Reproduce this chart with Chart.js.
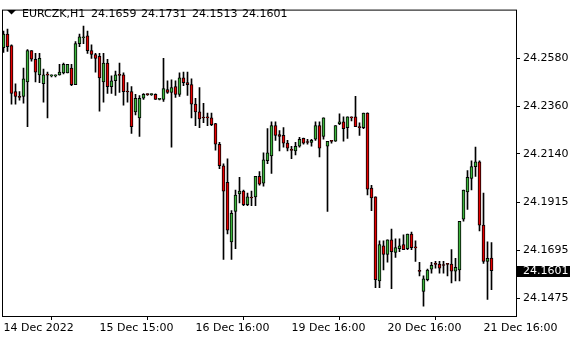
<!DOCTYPE html>
<html>
<head>
<meta charset="utf-8">
<title>EURCZK,H1</title>
<script src="https://cdn.jsdelivr.net/npm/chart.js@4.4.1/dist/chart.umd.min.js"></script>
<style>
  html, body { margin: 0; padding: 0; background: #fff; }
  #wrap { width: 580px; height: 340px; }
</style>
</head>
<body>
<div id="wrap"><canvas id="chart" width="580" height="340"></canvas></div>
<script>
// EURCZK H1 candles, one value per hour bar
const symbol = 'EURCZK,H1';

const open = [
  24.2630, 24.2692, 24.2639, 24.2427, 24.2405, 24.2405, 24.2472, 24.2616, 24.2576, 24.2504,
  24.2463, 24.2504, 24.2499, 24.2499, 24.2504, 24.2513, 24.2513, 24.2535, 24.2459, 24.2648,
  24.2675, 24.2684, 24.2616, 24.2598, 24.2589, 24.2472, 24.2558, 24.2450, 24.2477, 24.2504,
  24.2504, 24.2427, 24.2427, 24.2333, 24.2306, 24.2396, 24.2414, 24.2413, 24.2414, 24.2391,
  24.2391, 24.2436, 24.2423, 24.2450, 24.2414, 24.2490, 24.2468, 24.2459, 24.2369, 24.2333,
  24.2306, 24.2310, 24.2306, 24.2279, 24.2184, 24.2085, 24.2009, 24.1734, 24.1874, 24.1955,
  24.1968, 24.1905, 24.1937, 24.1941, 24.2036, 24.2004, 24.2108, 24.2130, 24.2270, 24.2229,
  24.2225, 24.2189, 24.2157, 24.2153, 24.2175, 24.2211, 24.2193, 24.2193, 24.2207, 24.2270,
  24.2220, 24.2175, 24.2198, 24.2198, 24.2279, 24.2288, 24.2261, 24.2310, 24.2310, 24.2265,
  24.2261, 24.2328, 24.1982, 24.1941, 24.1554, 24.1716, 24.1676, 24.1743, 24.1685, 24.1703,
  24.1721, 24.1703, 24.1770, 24.1707, 24.1599, 24.1505, 24.1559, 24.1608, 24.1631, 24.1631,
  24.1626, 24.1631, 24.1631, 24.1599, 24.1604, 24.1838, 24.1964, 24.2027, 24.2081, 24.2103,
  24.1811, 24.1644, 24.1659
];
const high = [
  24.2706, 24.2715, 24.2643, 24.2463, 24.2427, 24.2535, 24.2621, 24.2616, 24.2603, 24.2603,
  24.2531, 24.2517, 24.2504, 24.2504, 24.2553, 24.2558, 24.2553, 24.2553, 24.2657, 24.2692,
  24.2729, 24.2706, 24.2643, 24.2603, 24.2603, 24.2603, 24.2576, 24.2499, 24.2522, 24.2558,
  24.2513, 24.2468, 24.2450, 24.2414, 24.2409, 24.2418, 24.2416, 24.2416, 24.2416, 24.2393,
  24.2580, 24.2477, 24.2481, 24.2477, 24.2513, 24.2517, 24.2517, 24.2486, 24.2396, 24.2445,
  24.2373, 24.2328, 24.2328, 24.2280, 24.2193, 24.2094, 24.2117, 24.1878, 24.1973, 24.2031,
  24.1973, 24.1959, 24.1968, 24.2036, 24.2058, 24.2144, 24.2256, 24.2288, 24.2288, 24.2247,
  24.2261, 24.2202, 24.2175, 24.2193, 24.2216, 24.2212, 24.2207, 24.2207, 24.2288, 24.2288,
  24.2306, 24.2198, 24.2202, 24.2270, 24.2324, 24.2310, 24.2310, 24.2311, 24.2405, 24.2283,
  24.2328, 24.2329, 24.1995, 24.1942, 24.1739, 24.1739, 24.1743, 24.1793, 24.1748, 24.1748,
  24.1766, 24.1770, 24.1779, 24.1739, 24.1640, 24.1577, 24.1608, 24.1640, 24.1644, 24.1644,
  24.1644, 24.1635, 24.1698, 24.1658, 24.1829, 24.1973, 24.2063, 24.2108, 24.2171, 24.2108,
  24.1959, 24.1734, 24.1731
];
const low = [
  24.2607, 24.2612, 24.2369, 24.2369, 24.2387, 24.2373, 24.2265, 24.2567, 24.2472, 24.2468,
  24.2378, 24.2306, 24.2495, 24.2495, 24.2503, 24.2508, 24.2513, 24.2454, 24.2459, 24.2634,
  24.2648, 24.2603, 24.2580, 24.2517, 24.2337, 24.2378, 24.2418, 24.2418, 24.2409, 24.2423,
  24.2364, 24.2378, 24.2234, 24.2319, 24.2220, 24.2391, 24.2409, 24.2409, 24.2391, 24.2389,
  24.2382, 24.2418, 24.2171, 24.2400, 24.2405, 24.2454, 24.2409, 24.2306, 24.2270, 24.2261,
  24.2283, 24.2270, 24.2270, 24.2157, 24.2072, 24.1653, 24.1770, 24.1653, 24.1703, 24.1914,
  24.1901, 24.1901, 24.1901, 24.1901, 24.1995, 24.1991, 24.2094, 24.2049, 24.2202, 24.2153,
  24.2171, 24.2153, 24.2117, 24.2135, 24.2171, 24.2184, 24.2184, 24.2175, 24.2202, 24.2126,
  24.2207, 24.1874, 24.2189, 24.2197, 24.2274, 24.2198, 24.2211, 24.2292, 24.2265, 24.2225,
  24.2256, 24.1950, 24.1878, 24.1523, 24.1523, 24.1604, 24.1640, 24.1518, 24.1662, 24.1689,
  24.1698, 24.1698, 24.1698, 24.1644, 24.1577, 24.1437, 24.1554, 24.1590, 24.1613, 24.1590,
  24.1590, 24.1577, 24.1545, 24.1554, 24.1554, 24.1829, 24.1883, 24.1973, 24.2036, 24.1784,
  24.1635, 24.1469, 24.1513
];
const close = [
  24.2692, 24.2634, 24.2418, 24.2405, 24.2400, 24.2486, 24.2616, 24.2576, 24.2517, 24.2580,
  24.2504, 24.2503, 24.2499, 24.2500, 24.2517, 24.2553, 24.2553, 24.2459, 24.2648, 24.2679,
  24.2679, 24.2616, 24.2598, 24.2580, 24.2490, 24.2558, 24.2450, 24.2477, 24.2504, 24.2502,
  24.2427, 24.2425, 24.2265, 24.2396, 24.2396, 24.2414, 24.2413, 24.2414, 24.2391, 24.2391,
  24.2441, 24.2423, 24.2445, 24.2414, 24.2490, 24.2468, 24.2459, 24.2369, 24.2333, 24.2301,
  24.2305, 24.2306, 24.2274, 24.2184, 24.2085, 24.1968, 24.1788, 24.1865, 24.1950, 24.1968,
  24.1905, 24.1941, 24.1936, 24.2036, 24.2000, 24.2112, 24.2144, 24.2270, 24.2225, 24.2220,
  24.2189, 24.2166, 24.2156, 24.2175, 24.2207, 24.2189, 24.2192, 24.2202, 24.2270, 24.2166,
  24.2306, 24.2198, 24.2197, 24.2270, 24.2288, 24.2256, 24.2310, 24.2306, 24.2265, 24.2261,
  24.2328, 24.1977, 24.1937, 24.1559, 24.1721, 24.1676, 24.1743, 24.1689, 24.1707, 24.1716,
  24.1698, 24.1770, 24.1707, 24.1706, 24.1598, 24.1563, 24.1604, 24.1626, 24.1630, 24.1613,
  24.1625, 24.1630, 24.1599, 24.1617, 24.1829, 24.1973, 24.2031, 24.2081, 24.2103, 24.1811,
  24.1644, 24.1658, 24.1601
];

// time axis labels sit on every 24th bar
const timeTickIdx = [0, 24, 48, 72, 96, 120];
const timeTickText = ['14 Dec 2022', '15 Dec 15:00', '16 Dec 16:00', '19 Dec 16:00', '20 Dec 16:00', '21 Dec 16:00'];
const priceTicks = [24.1475, 24.1695, 24.1915, 24.2140, 24.2360, 24.2580];

const upColor = '#3cb43c';
const downColor = '#e60000';
const fontFamily = '"DejaVu Sans", "Liberation Sans", sans-serif';

const bodies = open.map((o, i) => ({ x: i, y: [o, close[i]] }));
const wicks = low.map((l, i) => ({ x: i, y: [l, high[i]] }));
const bodyColors = open.map((o, i) => close[i] >= o ? upColor : downColor);

const last = close.length - 1;

const chartDecor = {
    id: 'chartDecor',
    afterDraw(chart) {
        const { ctx, chartArea: a, scales } = chart;
        ctx.save();
        // plot frame
        ctx.strokeStyle = '#000';
        ctx.lineWidth = 1;
        ctx.strokeRect(a.left + 0.5, a.top + 0.5, a.right - a.left, a.bottom - a.top);

        // current price tag on the price axis
        const py = Math.round(scales.y.getPixelForValue(close[last]));
        ctx.fillStyle = '#000';
        ctx.fillRect(a.right + 1, py - 5, 53, 11);
        ctx.fillStyle = '#fff';
        ctx.font = '11px ' + fontFamily;
        ctx.textBaseline = 'middle';
        ctx.textAlign = 'left';
        ctx.fillText(close[last].toFixed(4), a.right + 7, py + 0.5);

        // header: symbol and OHLC of the last bar
        ctx.fillStyle = '#000';
        ctx.beginPath();
        ctx.moveTo(7, 10);
        ctx.lineTo(16, 10);
        ctx.lineTo(11.5, 14.5);
        ctx.closePath();
        ctx.fill();
        ctx.textBaseline = 'alphabetic';
        ctx.fillText(symbol, 22, 17);
        const vals = [open[last], high[last], low[last], close[last]];
        const xs = [91, 141, 192, 242];
        vals.forEach((v, k) => ctx.fillText(v.toFixed(4), xs[k], 17));
        ctx.restore();
    }
};

const ctx = document.getElementById('chart').getContext('2d');
new Chart(ctx, {
    type: 'bar',
    data: {
        datasets: [
            {
                label: 'body',
                data: bodies,
                backgroundColor: bodyColors,
                borderColor: '#000',
                borderWidth: 1,
                borderSkipped: false,
                barThickness: 3,
                maxBarThickness: 3,
                minBarLength: 1,
                grouped: false
            },
            {
                label: 'wick',
                data: wicks,
                backgroundColor: '#000',
                borderWidth: 0,
                barThickness: 1,
                maxBarThickness: 1,
                minBarLength: 1,
                grouped: false
            }
        ]
    },
    options: {
        responsive: false,
        animation: false,
        events: [],
        layout: { padding: { left: 2, top: 2, right: 0, bottom: 0 } },
        plugins: {
            legend: { display: false },
            tooltip: { enabled: false }
        },
        scales: {
            x: {
                type: 'linear',
                min: -0.375,
                max: 128.125,
                offset: false,
                border: { display: false },
                grid: { drawOnChartArea: false, drawTicks: true, tickLength: 4, color: '#000' },
                afterBuildTicks: s => { s.ticks = timeTickIdx.map(v => ({ value: v })); },
                afterFit: s => { s.height = 24; },
                ticks: {
                    autoSkip: false,
                    maxRotation: 0,
                    align: 'start',
                    padding: 2,
                    color: '#000',
                    font: { family: fontFamily, size: 11 },
                    callback: v => timeTickText[timeTickIdx.indexOf(v)]
                }
            },
            y: {
                position: 'right',
                min: 24.1392,
                max: 24.2805,
                border: { display: false },
                grid: { drawOnChartArea: false, drawTicks: true, tickLength: 4, color: '#000' },
                afterBuildTicks: s => { s.ticks = priceTicks.map(v => ({ value: v })); },
                afterFit: s => { s.width = 64; },
                ticks: {
                    padding: 3,
                    color: '#000',
                    font: { family: fontFamily, size: 11 },
                    callback: v => v.toFixed(4)
                }
            }
        }
    },
    plugins: [chartDecor]
});
</script>
</body>
</html>
